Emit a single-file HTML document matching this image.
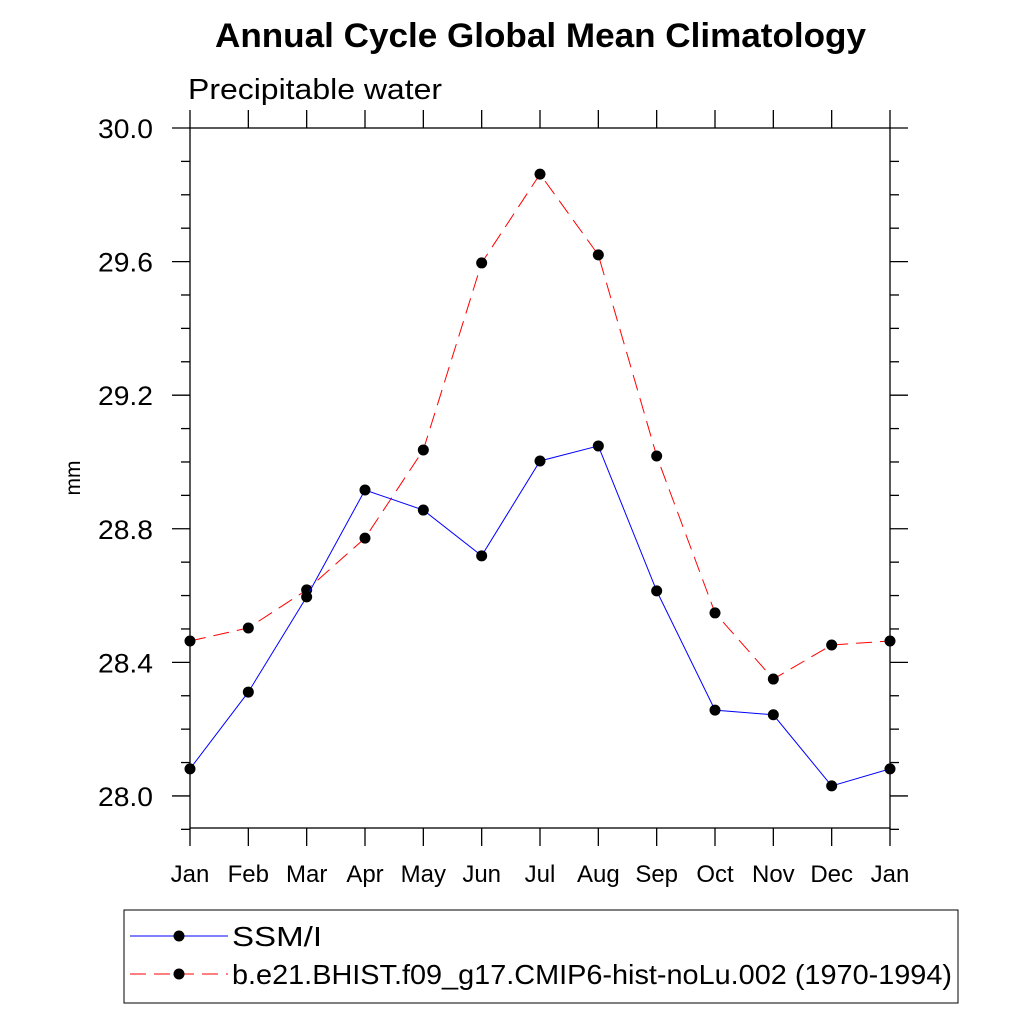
<!DOCTYPE html>
<html><head><meta charset="utf-8"><style>
body{margin:0;background:#fff}
svg{display:block;font-family:"Liberation Sans",sans-serif}
</style></head><body>
<svg id="c" width="1024" height="1024" viewBox="0 0 1024 1024">
<text x="215" y="47" font-size="34" font-weight="bold" textLength="651" lengthAdjust="spacingAndGlyphs">Annual Cycle Global Mean Climatology</text>
<text x="188" y="99" font-size="29" textLength="254" lengthAdjust="spacingAndGlyphs">Precipitable water</text>
<text transform="translate(80,478) rotate(-90)" text-anchor="middle" font-size="21">mm</text>
<rect x="190" y="128" width="700" height="700" fill="none" stroke="#000" stroke-width="1.3"/>
<g id="axes"></g>
<g id="series"></g>
<rect x="124" y="910" width="834" height="93" fill="none" stroke="#000" stroke-width="1"/>
<g>
<line x1="130" y1="936" x2="228" y2="936" stroke="#00f" stroke-width="1"/>
<circle cx="179" cy="936" r="5.5" fill="#000"/>
<text x="232" y="946" font-size="28" textLength="90" lengthAdjust="spacingAndGlyphs">SSM/I</text>
</g>
<g>
<line x1="130" y1="974" x2="228" y2="974" stroke="#f00" stroke-width="1" stroke-dasharray="16,8"/>
<circle cx="179" cy="974" r="5.5" fill="#000"/>
<text x="232" y="984" font-size="28" textLength="720" lengthAdjust="spacingAndGlyphs">b.e21.BHIST.f09_g17.CMIP6-hist-noLu.002 (1970-1994)</text>
</g>
</svg>
<script>
const months=["Jan","Feb","Mar","Apr","May","Jun","Jul","Aug","Sep","Oct","Nov","Dec","Jan"];
const ssmi=[28.081,28.311,28.596,28.916,28.856,28.719,29.003,29.048,28.614,28.257,28.243,28.030,28.081];
const model=[28.464,28.503,28.617,28.772,29.036,29.596,29.862,29.620,29.018,28.548,28.350,28.452,28.464];
const yTicks=[28.0,28.4,28.8,29.2,29.6,30.0];
const yTickLabels=["28.0","28.4","28.8","29.2","29.6","30.0"];
const NS="http://www.w3.org/2000/svg";
const yMin=27.904,yMax=30.0,L=190,R=890,T=128,B=828;
const xs=i=>L+i*(R-L)/(months.length-1);
const ys=v=>B-(v-yMin)/(yMax-yMin)*(B-T);
function mk(t,a,p){const e=document.createElementNS(NS,t);for(const k in a)e.setAttribute(k,a[k]);p.appendChild(e);return e;}
const ax=document.getElementById('axes');
months.forEach((m,i)=>{const x=xs(i);
 mk('line',{x1:x,y1:B,x2:x,y2:B+18,stroke:'#000','stroke-width':1.3},ax);
 mk('line',{x1:x,y1:T,x2:x,y2:T-18,stroke:'#000','stroke-width':1.3},ax);
 const t=mk('text',{x:x,y:882,'text-anchor':'middle','font-size':24},ax);t.textContent=m;
 
 
});
for(let v=27.9;v<=30.001;v+=0.1){const y=ys(v);
 const major=yTicks.some(t=>Math.abs(t-v)<1e-6);const len=major?18:9;
 mk('line',{x1:L-len,y1:y,x2:L,y2:y,stroke:'#000','stroke-width':1.3},ax);
 mk('line',{x1:R,y1:y,x2:R+len,y2:y,stroke:'#000','stroke-width':1.3},ax);}
yTicks.forEach((v,i)=>{const t=mk('text',{x:98,y:ys(v)+10,'font-size':27,textLength:55,lengthAdjust:'spacingAndGlyphs'},ax);t.textContent=yTickLabels[i];
 
 });
const sg=document.getElementById('series');
function draw(vals,color,dash,name){
 const g=mk('g',{},sg);
 
 
 const a={points:vals.map((v,i)=>xs(i)+','+ys(v)).join(' '),fill:'none',stroke:color,'stroke-width':1};
 if(dash)a['stroke-dasharray']=dash;
 mk('polyline',a,g);
 vals.forEach((v,i)=>{const c=mk('circle',{cx:xs(i),cy:ys(v),r:5.5,fill:'#000'},g);
  
  });
}
draw(model,'#f00','16,8','series-model');
draw(ssmi,'#00f',null,'series-ssmi');
</script>
</body></html>
